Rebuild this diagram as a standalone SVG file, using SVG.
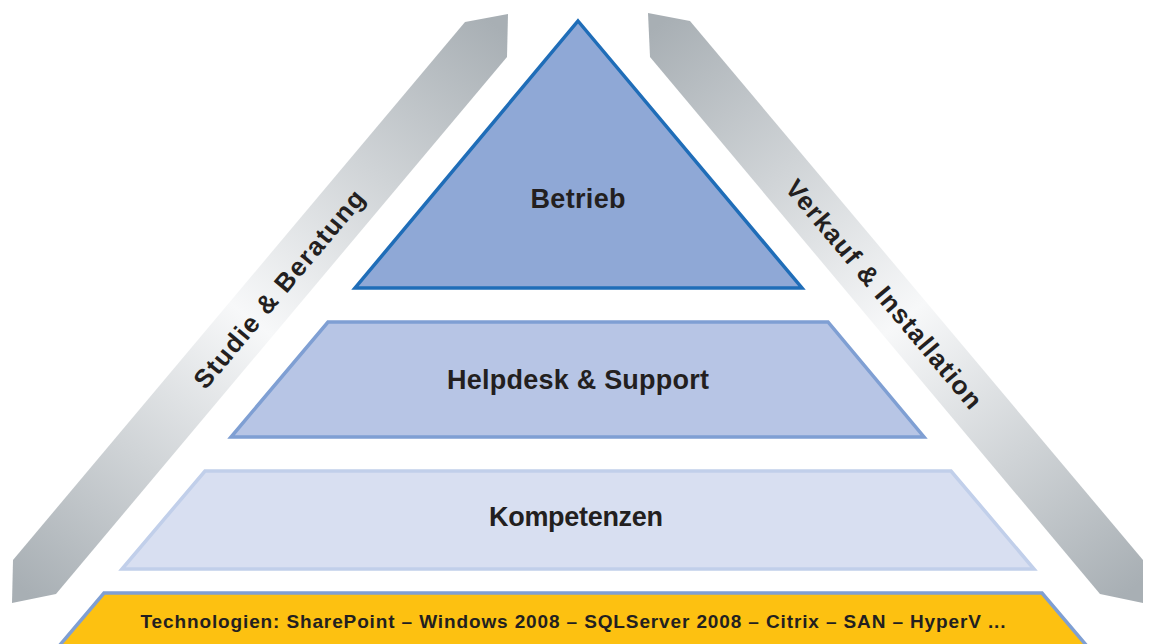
<svg xmlns="http://www.w3.org/2000/svg" width="1152" height="644" viewBox="0 0 1152 644">
<defs>
<linearGradient id="gl" gradientUnits="userSpaceOnUse" x1="486" y1="17" x2="33" y2="598">
<stop offset="0" stop-color="#a8afb4"/>
<stop offset="0.52" stop-color="#f7f8f9"/>
<stop offset="1" stop-color="#a8afb4"/>
</linearGradient>
<linearGradient id="gr" gradientUnits="userSpaceOnUse" x1="668" y1="17" x2="1121" y2="598">
<stop offset="0" stop-color="#a8afb4"/>
<stop offset="0.52" stop-color="#f7f8f9"/>
<stop offset="1" stop-color="#a8afb4"/>
</linearGradient>
<style>
.lbl{font-family:"Liberation Sans",Arial,sans-serif;font-weight:bold;fill:#231f20;text-anchor:middle}
.big{font-size:27px}
.side{font-size:26px}
.tech{font-size:19px}
</style>
</defs>
<rect width="1152" height="644" fill="#ffffff"/>
<g id="band-left">
<polygon points="465,22 508,14 507,57 56,594 12,603 13,560" fill="url(#gl)"/>
<text class="lbl side" transform="translate(279,289) rotate(-50)" dy="9" textLength="250" lengthAdjust="spacing">Studie &amp; Beratung</text>
</g>
<g id="band-right">
<polygon points="648,13 690,21 1143,560 1143,603 1100,594 650,57" fill="url(#gr)"/>
<text class="lbl side" transform="translate(884,294) rotate(50)" dy="9" textLength="290" lengthAdjust="spacing">Verkauf &amp; Installation</text>
</g>
<g id="betrieb">
<polygon points="578,21 802,288 355,288" fill="#8fa8d6" stroke="#1f6db8" stroke-width="3.5" stroke-linejoin="miter"/>
<text class="lbl big" x="578" y="208" textLength="95" lengthAdjust="spacing">Betrieb</text>
</g>
<g id="helpdesk">
<polygon points="328,322 828,322 924,437 231,437" fill="#b7c5e5" stroke="#7f9fd3" stroke-width="3.5"/>
<text class="lbl big" x="578" y="389" textLength="262" lengthAdjust="spacing">Helpdesk &amp; Support</text>
</g>
<g id="kompetenzen">
<polygon points="205,471 951,471 1034,569 122,569" fill="#d8dff1" stroke="#c1cfea" stroke-width="3.5"/>
<text class="lbl big" x="576" y="526" textLength="174" lengthAdjust="spacing">Kompetenzen</text>
</g>
<g id="technologien">
<polygon points="104,593 1042,593 1092,652 54,652" fill="#fdc111" stroke="#7f9fd3" stroke-width="3.5"/>
<text class="lbl tech" x="573" y="628" textLength="865" lengthAdjust="spacing">Technologien: SharePoint – Windows 2008 – SQLServer 2008 – Citrix – SAN – HyperV ...</text>
</g>
<g id="connectors"/>
</svg>
